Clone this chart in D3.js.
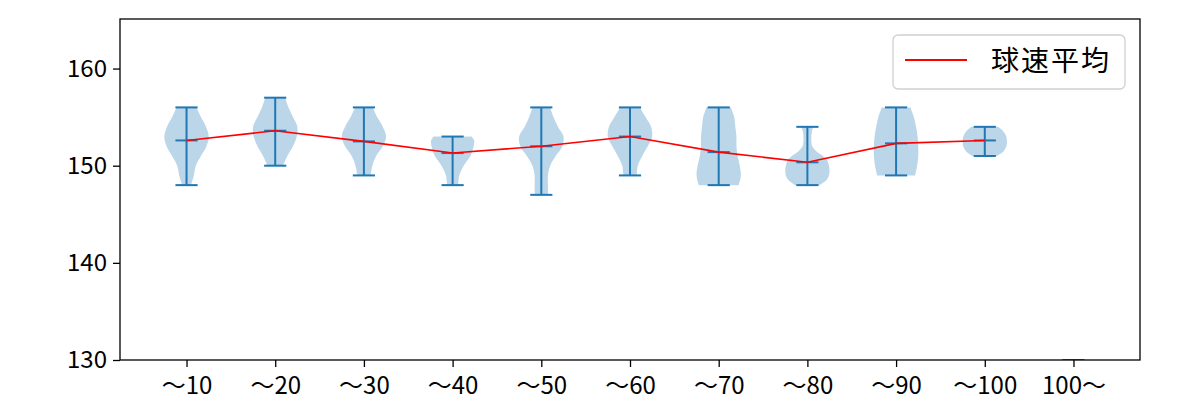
<!DOCTYPE html>
<html><head><meta charset="utf-8">
<script src="https://cdn.jsdelivr.net/npm/d3@7"></script>
<style>body{margin:0;background:#fff}svg{display:block}text{font-family:"Noto Sans CJK JP","Noto Sans",sans-serif;fill:#000}</style>
</head><body><svg id="c" width="1200" height="400"></svg>
<script>
// ---- data ----
const categories = ["～10","～20","～30","～40","～50","～60","～70","～80","～90","～100","100～"];
const mins  = [148,150,149,148,147,149,148,148,149,151,127];
const maxs  = [156,157,156,153,156,156,156,154,156,154,130];
const means = [152.6,153.6,152.5,151.3,152.0,153.0,151.4,150.35,152.3,152.6,null];
// density profiles: [value, relative density]
const dens1 = [[148,0.2],[149,0.33],[150,0.42],[151,0.65],[152,0.9],[153,1.0],[154,0.88],[155,0.65],[156,0.45]];
const dens2 = [[150,0.35],[151,0.55],[152,0.8],[153,0.97],[154,1.0],[155,0.8],[156,0.6],[157,0.45]];
const dens3 = [[149,0.3],[150,0.38],[151,0.55],[152,0.85],[153,1.0],[154,0.85],[155,0.6],[156,0.4]];
const dens4 = [[148,0.25],[149,0.3],[150,0.5],[151,0.8],[152,0.95],[152.6,0.97],[153,0.85]];
const dens5 = [[147,0.3],[148,0.3],[149,0.3],[150,0.4],[151,0.65],[152,0.95],[153,1.0],[154,0.75],[155,0.55],[156,0.4]];
const dens6 = [[149,0.3],[150,0.35],[151,0.55],[152,0.8],[153,1.0],[154,0.95],[155,0.7],[156,0.45]];
const dens7 = [[148,0.9],[149,1.0],[150,0.95],[151,0.85],[152,0.8],[153,0.8],[154,0.75],[155,0.7],[156,0.55]];
const dens8 = [[148,0.55],[148.5,0.85],[149,0.97],[149.5,1.0],[150,0.97],[150.5,0.9],[151,0.7],[151.5,0.4],[152,0.22],[152.5,0.18],[153,0.18],[153.5,0.2],[154,0.28]];
const dens9 = [[149,0.85],[150,0.95],[151,1.0],[152,1.0],[153,0.97],[154,0.9],[155,0.8],[156,0.65]];
const dens10 = [[151,0.55],[151.5,0.85],[152,0.97],[152.5,1.0],[153,0.97],[153.5,0.85],[154,0.6]];
const dens11 = [[127,0.3],[128.5,0.5],[130,0.47]];
const densities = [dens1,dens2,dens3,dens4,dens5,dens6,dens7,dens8,dens9,dens10,dens11];
const yTicks = [130,140,150,160];
const legendLabel = "球速平均";

// ---- layout ----
const L=120,R=1140,T=19,B=360;
const svg=d3.select("#c");
const x=d3.scaleLinear().domain([0.25,11.75]).range([L,R]);
const y=d3.scaleLinear().domain([130,165.1]).range([B,T]);
const blue="#1f77b4";
const halfW=0.25, capW=0.125;

svg.append("defs").append("clipPath").attr("id","clip").append("rect")
  .attr("x",L).attr("y",T).attr("width",R-L).attr("height",B-T);
const g=svg.append("g").attr("clip-path","url(#clip)");

const area=d3.area().curve(d3.curveCatmullRom)
  .y(d=>y(d[0]));

densities.forEach((dd,i)=>{
  const p=i+1;
  g.append("path").datum(dd)
    .attr("d",area.x0(d=>x(p-halfW*d[1])).x1(d=>x(p+halfW*d[1])))
    .attr("fill",blue).attr("fill-opacity",0.3).attr("stroke","none");
});
densities.forEach((dd,i)=>{
  const p=i+1;
  g.append("line").attr("x1",x(p)).attr("x2",x(p)).attr("y1",y(mins[i])).attr("y2",y(maxs[i]))
    .attr("stroke",blue).attr("stroke-width",2);
  const caps=[mins[i],maxs[i]]; if(means[i]!=null) caps.push(means[i]);
  caps.forEach(v=>{
    g.append("line").attr("x1",x(p-capW)).attr("x2",x(p+capW)).attr("y1",y(v)).attr("y2",y(v))
      .attr("stroke",blue).attr("stroke-width",2);
  });
});
const meanPts=means.map((m,i)=>[i+1,m]).filter(d=>d[1]!=null);
g.append("path").datum(meanPts)
  .attr("d",d3.line().x(d=>x(d[0])).y(d=>y(d[1])))
  .attr("fill","none").attr("stroke","red").attr("stroke-width",1.6);

// axes
const xa=svg.append("g").attr("transform",`translate(0,${B})`)
  .call(d3.axisBottom(x).tickValues(d3.range(1,12)).tickFormat(d=>categories[d-1]).tickSize(7).tickPadding(5));
const ya=svg.append("g").attr("transform",`translate(${L},0)`)
  .call(d3.axisLeft(y).tickValues(yTicks).tickSize(7).tickPadding(6));
[xa,ya].forEach(a=>{a.select(".domain").remove();a.selectAll("line").attr("stroke","#000").attr("stroke-width",1.3);
  a.selectAll("text").attr("font-size",24).attr("font-family",'"Noto Sans CJK JP",sans-serif').attr("fill","#000");});
xa.selectAll("text").attr("dy","0.9em");
svg.append("rect").attr("x",L).attr("y",T).attr("width",R-L).attr("height",B-T)
  .attr("fill","none").attr("stroke","#000").attr("stroke-width",1.3);

// legend
const lg=svg.append("g");
lg.append("rect").attr("x",893).attr("y",35).attr("width",232).attr("height",54).attr("rx",5)
  .attr("fill","#fff").attr("fill-opacity",0.8).attr("stroke","#d0d0d0").attr("stroke-width",1.3);
lg.append("line").attr("x1",905).attr("x2",967).attr("y1",60).attr("y2",60).attr("stroke","red").attr("stroke-width",2);
lg.append("text").attr("x",991).attr("y",71).attr("font-size",28).attr("letter-spacing","2px").text(legendLabel);
</script></body></html>
